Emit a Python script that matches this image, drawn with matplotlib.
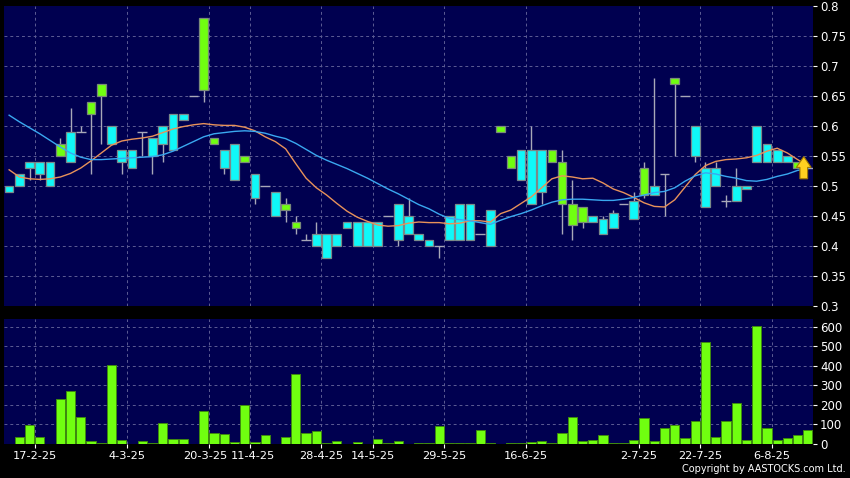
import numpy as np
import matplotlib
matplotlib.use('Agg')
import matplotlib.pyplot as plt
import matplotlib.transforms as mtransforms
from matplotlib.patches import FancyArrow

# daily prices (one entry per trading bar)
opens = [0.50, 0.52, 0.54, 0.54, 0.54, 0.55, 0.59, 0.59, 0.62, 0.65,
         0.60, 0.56, 0.56, 0.59, 0.58, 0.60, 0.62, 0.62, 0.65, 0.66,
         0.57, 0.56, 0.57, 0.54, 0.52, 0.50, 0.49, 0.46, 0.43, 0.41,
         0.42, 0.42, 0.42, 0.44, 0.44, 0.44, 0.44, 0.45, 0.47, 0.45,
         0.42, 0.41, 0.40, 0.45, 0.47, 0.47, 0.42, 0.46, 0.59, 0.53,
         0.56, 0.56, 0.56, 0.54, 0.47, 0.435, 0.44, 0.45, 0.445, 0.455,
         0.47, 0.475, 0.485, 0.50, 0.52, 0.67, 0.65, 0.60, 0.53, 0.53,
         0.475, 0.50, 0.50, 0.60, 0.57, 0.56, 0.55, 0.53, 0.53]
highs = [0.50, 0.52, 0.54, 0.54, 0.54, 0.58, 0.63, 0.60, 0.64, 0.67,
         0.60, 0.56, 0.56, 0.59, 0.58, 0.60, 0.62, 0.62, 0.65, 0.78,
         0.58, 0.56, 0.57, 0.55, 0.52, 0.50, 0.49, 0.48, 0.45, 0.42,
         0.44, 0.42, 0.42, 0.44, 0.44, 0.44, 0.44, 0.45, 0.47, 0.48,
         0.42, 0.41, 0.40, 0.45, 0.47, 0.47, 0.42, 0.46, 0.60, 0.55,
         0.56, 0.60, 0.56, 0.56, 0.56, 0.51, 0.465, 0.45, 0.45, 0.46,
         0.47, 0.49, 0.54, 0.68, 0.52, 0.68, 0.65, 0.60, 0.54, 0.54,
         0.485, 0.53, 0.50, 0.60, 0.57, 0.56, 0.55, 0.54, 0.53]
lows = [0.49, 0.50, 0.51, 0.51, 0.50, 0.55, 0.54, 0.59, 0.52, 0.57,
        0.57, 0.52, 0.53, 0.55, 0.52, 0.54, 0.56, 0.61, 0.65, 0.64,
        0.57, 0.52, 0.51, 0.54, 0.47, 0.50, 0.45, 0.44, 0.42, 0.41,
        0.40, 0.38, 0.40, 0.43, 0.40, 0.40, 0.40, 0.45, 0.40, 0.42,
        0.41, 0.40, 0.38, 0.41, 0.41, 0.41, 0.42, 0.40, 0.59, 0.53,
        0.51, 0.47, 0.47, 0.54, 0.42, 0.41, 0.43, 0.44, 0.42, 0.43,
        0.47, 0.445, 0.48, 0.485, 0.45, 0.55, 0.65, 0.54, 0.465, 0.50,
        0.465, 0.475, 0.495, 0.54, 0.54, 0.54, 0.54, 0.53, 0.53]
closes = [0.49, 0.50, 0.53, 0.52, 0.50, 0.57, 0.54, 0.59, 0.64, 0.67,
          0.57, 0.54, 0.53, 0.59, 0.55, 0.57, 0.56, 0.61, 0.65, 0.78,
          0.58, 0.53, 0.51, 0.55, 0.48, 0.50, 0.45, 0.47, 0.44, 0.41,
          0.40, 0.38, 0.40, 0.43, 0.40, 0.40, 0.40, 0.45, 0.41, 0.42,
          0.41, 0.40, 0.40, 0.41, 0.41, 0.41, 0.42, 0.40, 0.60, 0.55,
          0.51, 0.47, 0.49, 0.56, 0.54, 0.47, 0.465, 0.44, 0.42, 0.43,
          0.47, 0.445, 0.53, 0.485, 0.52, 0.68, 0.65, 0.55, 0.465, 0.50,
          0.475, 0.475, 0.495, 0.54, 0.54, 0.54, 0.54, 0.54, 0.53]

# moving averages as plotted
ma_short = [0.527, 0.515, 0.512, 0.511, 0.512, 0.515, 0.521, 0.530, 0.542, 0.555,
            0.568, 0.575, 0.578, 0.580, 0.583, 0.589, 0.595, 0.599, 0.602, 0.604,
            0.602, 0.601, 0.601, 0.598, 0.592, 0.582, 0.574, 0.562, 0.537, 0.513,
            0.497, 0.485, 0.471, 0.458, 0.448, 0.441, 0.435, 0.433, 0.434, 0.438,
            0.440, 0.439, 0.439, 0.437, 0.438, 0.442, 0.442, 0.440, 0.454, 0.460,
            0.471, 0.482, 0.497, 0.512, 0.517, 0.515, 0.512, 0.513, 0.505, 0.495,
            0.489, 0.481, 0.472, 0.466, 0.465, 0.477, 0.498, 0.519, 0.534, 0.541,
            0.544, 0.545, 0.547, 0.551, 0.558, 0.563, 0.555, 0.544, 0.534]
ma_long = [0.618, 0.607, 0.597, 0.587, 0.576, 0.565, 0.555, 0.548, 0.544, 0.544,
           0.545, 0.546, 0.547, 0.548, 0.549, 0.552, 0.558, 0.566, 0.574, 0.582,
           0.587, 0.589, 0.591, 0.592, 0.591, 0.588, 0.583, 0.579, 0.571, 0.561,
           0.551, 0.543, 0.536, 0.529, 0.521, 0.513, 0.504, 0.495, 0.487, 0.478,
           0.469, 0.462, 0.453, 0.446, 0.444, 0.442, 0.439, 0.436, 0.443, 0.449,
           0.454, 0.460, 0.467, 0.473, 0.477, 0.478, 0.478, 0.477, 0.476, 0.476,
           0.478, 0.481, 0.485, 0.489, 0.491, 0.497, 0.508, 0.517, 0.522, 0.520,
           0.516, 0.513, 0.509, 0.508, 0.511, 0.516, 0.520, 0.526, 0.529]

# volume ('000 shares)
volumes = [0, 37, 96, 36, 1, 229, 273, 136, 17, 7,
           406, 19, 0, 17, 7, 106, 27, 26, 0, 171,
           56, 53, 9, 201, 12, 46, 2, 34, 360, 58,
           65, 3, 14, 2, 9, 2, 24, 7, 14, 2,
           3, 7, 94, 5, 4, 5, 73, 6, 1, 4,
           5, 11, 17, 7, 55, 138, 14, 19, 44, 6,
           5, 20, 135, 13, 80, 99, 31, 119, 520, 34,
           119, 212, 20, 606, 80, 20, 32, 46, 70]

# date labels and the bar they sit after
tick_bars = [2, 11, 19, 23, 30, 35, 42, 50, 61, 67, 74]
tick_labels = ['17-2-25', '4-3-25', '20-3-25', '11-4-25', '28-4-25', '14-5-25',
               '29-5-25', '16-6-25', '2-7-25', '22-7-25', '6-8-25']

price_ticks = [0.3, 0.35, 0.4, 0.45, 0.5, 0.55, 0.6, 0.65, 0.7, 0.75, 0.8]
vol_ticks = [0, 100, 200, 300, 400, 500, 600]


def main():
    bg = '#000050'
    gridcol = '#5c5c94'
    upcol = '#70ff10'
    downcol = '#10f8f8'
    wickcol = '#a8a8b8'

    o = np.array(opens)
    h = np.array(highs)
    l = np.array(lows)
    c = np.array(closes)
    x = np.arange(len(c))
    gridpos = np.array(tick_bars) + 0.5

    fig = plt.figure(figsize=(8.5, 4.78), dpi=100, facecolor='black')
    ax = fig.add_axes([4 / 850, 1 - 306 / 478, 809 / 850, 300 / 478])
    axv = fig.add_axes([4 / 850, 1 - 444 / 478, 809 / 850, 125 / 478])

    for a in (ax, axv):
        a.set_facecolor(bg)
        for s in a.spines.values():
            s.set_visible(False)
        a.set_xlim(-0.5, len(c) - 0.5)
        a.yaxis.tick_right()
        a.tick_params(axis='y', colors='white', labelsize=8.5, length=3, width=0.8, pad=2)
        a.set_axisbelow(True)
        for gp in gridpos:
            a.axvline(gp, color=gridcol, lw=0.7, dashes=(3, 3), zorder=0)

    # price panel
    ax.set_ylim(0.3, 0.8)
    ax.set_yticks(price_ticks)
    ax.set_yticklabels(['%g' % t for t in price_ticks])
    ax.set_xticks([])
    for t in price_ticks[1:-1]:
        ax.axhline(t, color=gridcol, lw=0.7, dashes=(3, 3), zorder=0)

    ax.vlines(x, l, h, color=wickcol, lw=1, zorder=2)
    up = c > o
    down = c < o
    flat = c == o
    ax.bar(x[up], (c - o)[up], bottom=o[up], width=0.85, color=upcol,
           edgecolor='#7a8a7a', linewidth=0.9, zorder=3)
    ax.bar(x[down], (o - c)[down], bottom=c[down], width=0.85, color=downcol,
           edgecolor='#7a8a8a', linewidth=0.9, zorder=3)
    ax.hlines(c[flat], x[flat] - 0.48, x[flat] + 0.48, color=wickcol, lw=1, zorder=3)

    ax.plot(x, ma_short, color='#e8925a', lw=1, zorder=4)
    ax.plot(x, ma_long, color='#3aa8f0', lw=1, zorder=4)

    # latest price arrow
    last = len(c) - 1
    arr = FancyArrow(last - 0.4, c[last] - 0.018, 0, 0.037, width=0.75,
                     head_width=1.45, head_length=0.018, length_includes_head=True,
                     facecolor='#ffd020', edgecolor='#a07800', linewidth=0.8, zorder=6)
    ax.add_patch(arr)

    # volume panel
    axv.set_ylim(0, 640)
    axv.set_yticks(vol_ticks)
    axv.set_yticklabels([str(v) for v in vol_ticks])
    for t in vol_ticks[1:]:
        axv.axhline(t, color=gridcol, lw=0.7, dashes=(3, 3), zorder=0)
    axv.bar(x, volumes, width=0.9, color=upcol, edgecolor='#3f8a10', linewidth=0.7, zorder=3)
    axv.set_xticks(gridpos)
    axv.set_xticklabels(tick_labels)
    axv.tick_params(axis='x', colors='white', labelsize=8.2, length=3, width=0.8, pad=2)

    # two labels sit very close together, nudge them apart a little
    lbls = axv.get_xticklabels()
    lbls[2].set_transform(lbls[2].get_transform() +
                          mtransforms.ScaledTranslation(-3 / 100, 0, fig.dpi_scale_trans))
    lbls[3].set_transform(lbls[3].get_transform() +
                          mtransforms.ScaledTranslation(3 / 100, 0, fig.dpi_scale_trans))

    fig.text(0.995, 0.008, 'Copyright by AASTOCKS.com Ltd.', color='white',
             fontsize=7, ha='right', va='bottom')

    fig.savefig('out.png', dpi=100, facecolor='black')


if __name__ == '__main__':
    main()
